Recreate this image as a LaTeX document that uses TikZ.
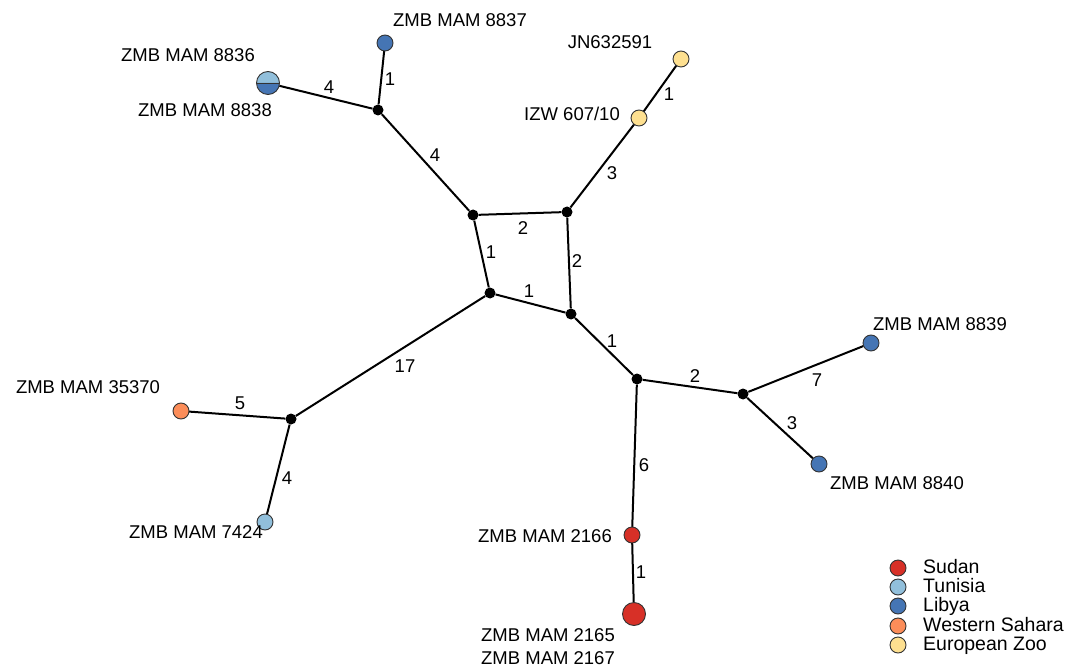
\documentclass[tikz,border=0pt]{standalone}
\usepackage{fontspec}
\setmainfont{Liberation Sans}
\definecolor{sudan}{RGB}{215,48,39}
\definecolor{tunisia}{RGB}{145,191,219}
\definecolor{libya}{RGB}{69,117,180}
\definecolor{wsahara}{RGB}{252,141,89}
\definecolor{zoo}{RGB}{254,224,144}
\begin{document}
\begin{tikzpicture}[x=1pt,y=-1pt,
  font=\fontsize{18.5}{22}\selectfont,
  junc/.style={circle,inner sep=0pt,minimum size=11pt},
  hap/.style={circle,inner sep=0pt,minimum size=16pt},
  big/.style={hap,minimum size=23pt},
  edge/.style={line width=2pt},
  ring/.style={draw=black!80,line width=0.9pt},
  lbl/.style={inner sep=0pt},
  txt/.style={inner sep=0pt},
  legtxt/.style={inner sep=0pt,anchor=west,font=\fontsize{19.5}{21}\selectfont,text height=13.5pt,text depth=3.5pt}]
\useasboundingbox (0,0) rectangle (1075,668);
% junctions
\node[junc] (A) at (378,110) {};
\node[junc] (B) at (473,215) {};
\node[junc] (C) at (567,212) {};
\node[junc] (D) at (490,293) {};
\node[junc] (E) at (571,314) {};
\node[junc] (F) at (637,379) {};
\node[junc] (G) at (743,394) {};
\node[junc] (H) at (291,419) {};
% haplotypes
\node[hap] (n8837) at (385,43) {};
\node[big] (n8836) at (268,83) {};
\node[hap] (izw) at (639,118) {};
\node[hap] (jn) at (681,59) {};
\node[hap] (n8839) at (871,343) {};
\node[hap] (n8840) at (819,464) {};
\node[hap] (n2166) at (632,535) {};
\node[big] (n2165) at (634,614) {};
\node[hap] (n35370) at (181,411) {};
\node[hap] (n7424) at (265,522) {};
% edges
\draw[edge] (A) -- (n8837);
\draw[edge] (n8836) -- (A);
\draw[edge] (A) -- (B);
\draw[edge] (B) -- (C);
\draw[edge] (C) -- (izw);
\draw[edge] (izw) -- (jn);
\draw[edge] (B) -- (D);
\draw[edge] (C) -- (E);
\draw[edge] (D) -- (E);
\draw[edge] (E) -- (F);
\draw[edge] (F) -- (G);
\draw[edge] (G) -- (n8839);
\draw[edge] (G) -- (n8840);
\draw[edge] (F) -- (n2166);
\draw[edge] (n2166) -- (n2165);
\draw[edge] (D) -- (H);
\draw[edge] (H) -- (n35370);
\draw[edge] (H) -- (n7424);
% edge labels
\node[lbl] (lA8837) at (390,79) {1};
\node[lbl] (l8836A) at (329,87) {4};
\node[lbl] (lAB) at (435,155) {4};
\node[lbl] (lBC) at (523,228) {2};
\node[lbl] (lCizw) at (612,173) {3};
\node[lbl] (lizwjn) at (669,94) {1};
\node[lbl] (lBD) at (491,252) {1};
\node[lbl] (lCE) at (577,261) {2};
\node[lbl] (lDE) at (529,291) {1};
\node[lbl] (lEF) at (612,341) {1};
\node[lbl] (lFG) at (695,376) {2};
\node[lbl] (lG8839) at (817,380) {7};
\node[lbl] (lG8840) at (792,423) {3};
\node[lbl] (lF2166) at (644,465) {6};
\node[lbl] (l2166) at (641,572) {1};
\node[lbl] (lDH) at (405,366) {17};
\node[lbl] (lH35370) at (240,403) {5};
\node[lbl] (lH7424) at (287,478) {4};
% draw nodes on top
\foreach \n in {A,B,C,D,E,F,G,H} \fill (\n) circle[radius=5.5pt];
\foreach \n/\c in {n8837/libya,izw/zoo,jn/zoo,n8839/libya,n8840/libya,n2166/sudan,n35370/wsahara,n7424/tunisia}
  \draw[ring,fill=\c] (\n) circle[radius=8pt];
\draw[ring,fill=sudan] (n2165) circle[radius=11.5pt];
% split circle
\fill[tunisia] (n8836.east) arc[start angle=0,end angle=180,radius=11.5pt] -- cycle;
\fill[libya] (n8836.east) arc[start angle=0,end angle=-180,radius=11.5pt] -- cycle;
\draw[ring] (n8836.east) -- (n8836.west);
\draw[ring] (n8836) circle[radius=11.5pt];
% labels
\node[txt] (t8837) at (460,20) {ZMB MAM 8837};
\node[txt] (t8836) at (188,55) {ZMB MAM 8836};
\node[txt] (t8838) at (205,110) {ZMB MAM 8838};
\node[txt] (tjn) at (610,42) {JN632591};
\node[txt] (tizw) at (572,114) {IZW 607/10};
\node[txt] (t8839) at (940,324) {ZMB MAM 8839};
\node[txt] (t8840) at (897,483) {ZMB MAM 8840};
\node[txt] (t2166) at (545,536) {ZMB MAM 2166};
\node[txt] (t2165) at (548,635) {ZMB MAM 2165};
\node[txt] (t2167) at (548,658) {ZMB MAM 2167};
\node[txt] (t35370) at (88,387) {ZMB MAM 35370};
\node[txt] (t7424) at (196,532) {ZMB MAM 7424};
% legend
\foreach \c/\t/\y [count=\i] in {sudan/Sudan/568,tunisia/Tunisia/587,libya/Libya/606,wsahara/Western Sahara/626,zoo/European Zoo/645}{
  \draw[ring,fill=\c] (898,\y) circle[radius=8pt];
  \node[legtxt] (leg\i) at (923,\y) {\t};
}
\end{tikzpicture}
\end{document}
